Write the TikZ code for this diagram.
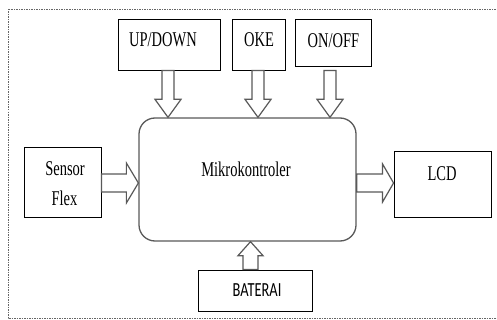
\documentclass[tikz,border=0pt]{standalone}
\usepackage{fontspec}
\usetikzlibrary{calc}
\newfontfamily\serifc[FakeStretch=0.69]{Liberation Serif}
\newfontfamily\sansc[FakeStretch=0.72]{Carlito}
\tikzset{
  box/.style={draw=black, line width=0.9pt, fill=white, inner sep=0, minimum width=#1},
  lbl/.style={font=\serifc\fontsize{21}{24}\selectfont, inner sep=0, anchor=base},
  slbl/.style={font=\sansc\fontsize{20}{24}\selectfont, inner sep=0, anchor=base},
  barrowst/.style={draw=black!65, line width=1.2pt, fill=white, line join=miter},
  frame/.style={draw=black!60, line width=0.8pt, dash pattern=on 1.5pt off 1pt},
}
\newcommand\barr[5]{% tail, tip, shaft half, head half, head length
  \path ($(#2)!#5!(#1)$) coordinate (hb);
  \draw[barrowst] ($(#1)!#3!90:(#2)$) -- ($(hb)!#3!90:(#2)$) -- ($(hb)!#4!90:(#2)$) -- (#2)
    -- ($(hb)!#4!-90:(#2)$) -- ($(hb)!#3!-90:(#2)$) -- ($(#1)!#3!-90:(#2)$) -- cycle;}
\begin{document}
\begin{tikzpicture}[x=1pt,y=-1pt]
\useasboundingbox (0,0) rectangle (497,320);
\draw[frame] (498,9) -- (8,9) -- (8,318) -- (498,318);

% boxes
\node[box=102pt, minimum height=51pt] (up) at (169,44.5) {};
\node[box=53pt, minimum height=51pt] (oke) at (258.5,44.5) {};
\node[box=76pt, minimum height=47pt] (onoff) at (333,42.5) {};
\node[draw=black!65, line width=1.3pt, rounded corners=16pt, fill=white, inner sep=0,
      minimum width=217pt, minimum height=123pt] (mk) at (247.5,179.5) {};
\node[box=77pt, minimum height=70pt] (sensor) at (62.5,182) {};
\node[box=97pt, minimum height=66pt] (lcd) at (442.5,184) {};
\node[box=114pt, minimum height=41pt] (bat) at (255,290.5) {};

% labels
\node[lbl] (tup) at (163,47) {UP/DOWN};
\node[lbl] (toke) at (259,47) {OKE};
\node[lbl] (tonoff) at (333.5,47.5) {ON/OFF};
\node[lbl] (tmk) at (246,176.5) {Mikrokontroler};
\node[lbl] (tsen) at (65,176) {Sensor};
\node[lbl] (tflex) at (64.5,206) {Flex};
\node[lbl] (tlcd) at (442,181) {LCD};
\node[slbl] (tbat) at (257,296) {BATERAI};

% connector end points
\coordinate (a1s) at ($(up.south)+(-1,0)$);
\coordinate (a1e) at (mk.north -| a1s);
\coordinate (a2s) at ($(oke.south)+(-0.5,0)$);
\coordinate (a2e) at (mk.north -| a2s);
\coordinate (a3s) at ($(onoff.south)+(-3,4)$);
\coordinate (a3e) at (mk.north -| a3s);
\coordinate (a4s) at ($(sensor.east)+(0,1)$);
\coordinate (a4e) at (mk.west |- a4s);
\coordinate (a5s) at (mk.east |- a4s);
\coordinate (a5e) at (lcd.west |- a4s);
\coordinate (a6s) at ($(bat.north)+(-4.5,0)$);
\coordinate (a6e) at (mk.south -| a6s);

% block arrows
\barr{a1s}{a1e}{6pt}{13pt}{18pt}
\barr{a2s}{a2e}{6pt}{13pt}{18pt}
\barr{a3s}{a3e}{6pt}{13pt}{18pt}
\barr{a4s}{a4e}{9pt}{20pt}{12pt}
\barr{a5s}{a5e}{9pt}{19pt}{11pt}
\barr{a6s}{a6e}{7.5pt}{12.5pt}{14pt}
\end{tikzpicture}
\end{document}
